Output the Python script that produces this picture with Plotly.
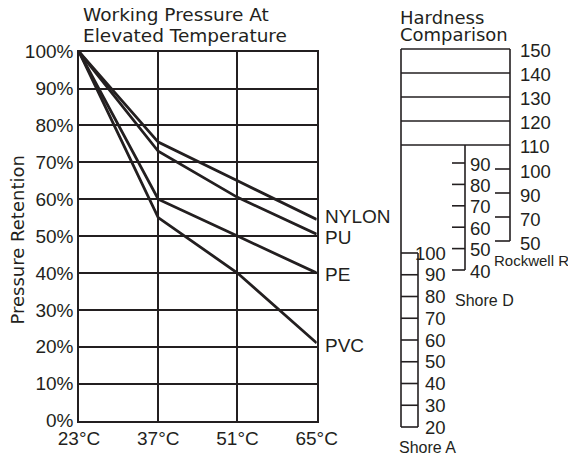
import plotly.graph_objects as go

# ---------------- data ----------------
TEMPS = [23, 37, 51, 65]
TEMP_LABELS = ["23°C", "37°C", "51°C", "65°C"]
NYLON = [100, 75.5, 65, 54.5]
PU = [100, 73, 60.5, 50.5]
PE = [100, 60, 50, 40]
PVC = [100, 55, 40, 21]
SERIES_NAMES = ["NYLON", "PU", "PE", "PVC"]
RETENTION_TICKS = [0, 10, 20, 30, 40, 50, 60, 70, 80, 90, 100]

ROCKWELL_R = [150, 140, 130, 120, 110, 100, 90, 70, 50]
SHORE_D = [90, 80, 70, 60, 50, 40]
SHORE_A = [100, 90, 80, 70, 60, 50, 40, 30, 20]

# ---------------- layout constants ----------------
PAGE_W, PAGE_H = 576, 457
OFF = 8                      # page body margin
W, H = PAGE_W - OFF, PAGE_H - OFF
INK = "#231f20"
NUM_FONT = "Liberation Sans, Arial, sans-serif"
TITLE_FONT = "DejaVu Sans, Verdana, sans-serif"


def fx(p):   # page pixel x -> paper fraction
    return (p - OFF) / W


def fy(p):   # page pixel y -> paper fraction
    return 1 - (p - OFF) / H


# main plot box (page pixels)
PX_L, PX_R, PY_TOP, PY_BOT = 79, 316.7, 51.7, 420.5

# right-hand diagram: x axis in panel units (page pixels)
DIAG_X0 = 390
ROCK_L, ROCK_R, ROCK_TICK_L, ROCK_LABEL_X = 401, 510, 495, 518
SHD_X, SHD_TICK_L, SHD_LABEL_X = 465, 452, 468
SHA_L, SHA_R, SHA_LABEL_X = 401, 418, 447.5
DIAG_LW = 1.6
DIAG_NUM_SIZE = 18.5


def yrange(va, pa, vb, pb):
    """axis range so that value va sits at page pixel pa and vb at pb"""
    s = (pb - pa) / (vb - va)
    v_at = lambda p: va + (p - pa) / s
    return [v_at(OFF + H), v_at(OFF)]


def convert(v, r_from, r_to):
    frac = (v - r_from[0]) / (r_from[1] - r_from[0])
    return r_to[0] + frac * (r_to[1] - r_to[0])


# Rockwell R ticks are evenly spaced by position index
RANGE_R = yrange(0, 49, len(ROCKWELL_R) - 1, 241)
RANGE_D = yrange(SHORE_D[0], 163, SHORE_D[-1], 270)
RANGE_A = yrange(SHORE_A[0], 253, SHORE_A[-1], 427)

fig = go.Figure()

# ---------------- main chart ----------------
for name, vals in zip(SERIES_NAMES, [NYLON, PU, PE, PVC]):
    fig.add_trace(go.Scatter(x=TEMPS, y=vals, mode="lines", name=name,
                             line=dict(color=INK, width=2.8),
                             showlegend=False, xaxis="x", yaxis="y"))

LABEL_NUDGE = {"NYLON": 3, "PU": -3, "PE": -2, "PVC": -2}
annotations = []
for name, vals in zip(SERIES_NAMES, [NYLON, PU, PE, PVC]):
    annotations.append(dict(x=TEMPS[-1], y=vals[-1], xref="x", yref="y", text=name,
                            showarrow=False, xanchor="left", yanchor="middle",
                            xshift=6, yshift=LABEL_NUDGE[name],
                            font=dict(family=NUM_FONT, size=19, color=INK)))

annotations += [
    dict(x=fx(81), y=fy(15), xref="paper", yref="paper", text="Working Pressure At",
         showarrow=False, xanchor="left", yanchor="middle",
         font=dict(family=TITLE_FONT, size=18.5, color=INK)),
    dict(x=fx(81), y=fy(35.5), xref="paper", yref="paper", text="Elevated Temperature",
         showarrow=False, xanchor="left", yanchor="middle",
         font=dict(family=TITLE_FONT, size=18.5, color=INK)),
    dict(x=fx(16.5), y=fy(240), xref="paper", yref="paper", text="Pressure Retention",
         showarrow=False, xanchor="center", yanchor="middle", textangle=-90,
         font=dict(family=TITLE_FONT, size=18, color=INK)),
    dict(x=fx(398), y=fy(17.5), xref="paper", yref="paper", text="Hardness",
         showarrow=False, xanchor="left", yanchor="middle",
         font=dict(family=TITLE_FONT, size=18, color=INK)),
    dict(x=fx(398), y=fy(34.5), xref="paper", yref="paper", text="Comparison",
         showarrow=False, xanchor="left", yanchor="middle",
         font=dict(family=TITLE_FONT, size=18, color=INK)),
]


def seg_trace(xs, ys, yaxis):
    fig.add_trace(go.Scatter(x=xs, y=ys, mode="lines", xaxis="x2", yaxis=yaxis,
                             line=dict(color=INK, width=DIAG_LW),
                             hoverinfo="skip", showlegend=False))


# ---------------- Rockwell R ----------------
idx_110 = ROCKWELL_R.index(110)
xs, ys = [], []
for i in range(idx_110 + 1):
    xs += [ROCK_L, ROCK_R, None]
    ys += [i, i, None]
for i in range(idx_110 + 1, len(ROCKWELL_R)):
    xs += [ROCK_TICK_L, ROCK_R, None]
    ys += [i, i, None]
xs += [ROCK_R, ROCK_R]
ys += [0, len(ROCKWELL_R) - 1]
seg_trace(xs, ys, "y2")
for i, v in enumerate(ROCKWELL_R):
    annotations.append(dict(x=ROCK_LABEL_X, y=i, xref="x2", yref="y2", text=str(v),
                            showarrow=False, xanchor="left", yanchor="middle",
                            yshift=-1 if i <= idx_110 else -2,
                            font=dict(family=NUM_FONT, size=DIAG_NUM_SIZE, color=INK)))
annotations.append(dict(x=492, y=len(ROCKWELL_R) - 1, xref="x2", yref="y2", text="Rockwell R",
                        showarrow=False, xanchor="left", yanchor="middle", yshift=-19,
                        font=dict(family=NUM_FONT, size=15, color=INK)))

# ---------------- Shore D ----------------
d_top = convert(idx_110, RANGE_R, RANGE_D)
xs, ys = [SHD_X, SHD_X, None], [d_top, SHORE_D[-1], None]
for v in SHORE_D:
    xs += [SHD_TICK_L, SHD_X, None]
    ys += [v, v, None]
seg_trace(xs, ys, "y3")
for v in SHORE_D:
    annotations.append(dict(x=SHD_LABEL_X, y=v, xref="x2", yref="y3", text=str(v),
                            showarrow=False, xanchor="left", yanchor="middle", yshift=-1,
                            font=dict(family=NUM_FONT, size=DIAG_NUM_SIZE, color=INK)))
annotations.append(dict(x=453, y=SHORE_D[-1], xref="x2", yref="y3", text="Shore D",
                        showarrow=False, xanchor="left", yanchor="middle", yshift=-30,
                        font=dict(family=NUM_FONT, size=16, color=INK)))

# ---------------- Shore A ----------------
a_top = convert(0, RANGE_R, RANGE_A)
xs, ys = [SHA_L, SHA_L, None, SHA_R, SHA_R, None], [a_top, SHORE_A[-1], None, SHORE_A[0], SHORE_A[-1], None]
for v in SHORE_A:
    xs += [SHA_L, SHA_R, None]
    ys += [v, v, None]
seg_trace(xs, ys, "y4")
for v in SHORE_A:
    annotations.append(dict(x=SHA_LABEL_X, y=v, xref="x2", yref="y4", text=str(v),
                            showarrow=False, xanchor="right", yanchor="middle", yshift=0,
                            font=dict(family=NUM_FONT, size=DIAG_NUM_SIZE, color=INK)))
annotations.append(dict(x=397, y=SHORE_A[-1], xref="x2", yref="y4", text="Shore A",
                        showarrow=False, xanchor="left", yanchor="middle", yshift=-20,
                        font=dict(family=NUM_FONT, size=16, color=INK)))

axis_common = dict(showgrid=True, gridcolor=INK, gridwidth=1.5, showline=True,
                   linecolor=INK, linewidth=1.5, mirror=True, zeroline=False,
                   ticks="", tickfont=dict(family=NUM_FONT, size=19, color=INK),
                   fixedrange=True, automargin=False)
hidden = dict(visible=False, showgrid=False, zeroline=False, fixedrange=True, automargin=False)

fig.update_layout(
    width=W, height=H,
    margin=dict(l=0, r=0, t=0, b=0, pad=0, autoexpand=False),
    paper_bgcolor="white", plot_bgcolor="rgba(0,0,0,0)",
    showlegend=False,
    xaxis=dict(domain=[fx(PX_L), fx(PX_R)], range=[TEMPS[0], TEMPS[-1]],
               tickvals=TEMPS, ticktext=TEMP_LABELS, anchor="y", **axis_common),
    yaxis=dict(domain=[fy(PY_BOT), fy(PY_TOP)], range=[0, 100],
               tickvals=RETENTION_TICKS, ticktext=[f"{v}%" for v in RETENTION_TICKS],
               anchor="x", **axis_common),
    xaxis2=dict(domain=[fx(DIAG_X0), 1], range=[DIAG_X0, OFF + W], anchor="y2", **hidden),
    yaxis2=dict(domain=[0, 1], range=RANGE_R, anchor="x2", **hidden),
    yaxis3=dict(domain=[0, 1], range=RANGE_D, anchor="x2", overlaying="y2", **hidden),
    yaxis4=dict(domain=[0, 1], range=RANGE_A, anchor="x2", overlaying="y2", **hidden),
    annotations=annotations,
)

fig.write_html("out.html")
